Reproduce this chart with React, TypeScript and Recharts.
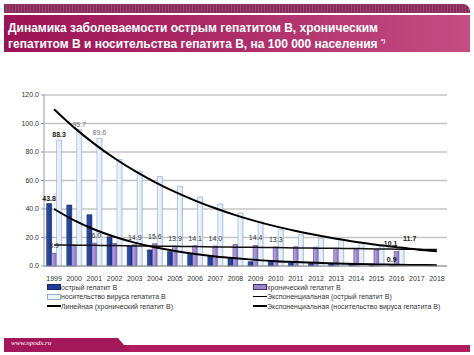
import React from 'react';
import { ComposedChart, Bar, Line, XAxis, YAxis, CartesianGrid, LabelList } from 'recharts';

const years = ['1999', '2000', '2001', '2002', '2003', '2004', '2005', '2006', '2007', '2008', '2009', '2010', '2011', '2012', '2013', '2014', '2015', '2016', '2017', '2018'];
const acute = [43.8, 42.8, 36.0, 20.5, 14.1, 11.3, 10.1, 8.2, 6.6, 5.4, 3.0, 3.6, 2.4, 2.0, 1.7, 1.4, 1.2, 0.9, null, null];
const chronic = [8.9, 14.8, 16.0, 15.8, 14.9, 15.6, 13.9, 14.1, 14.0, 15.0, 14.4, 13.3, 13.5, 13.2, 12.2, 11.5, 11.3, 10.1, null, null];
const carrier = [88.3, 95.7, 89.6, 74.8, 66.6, 62.8, 56.0, 48.5, 43.5, 37.2, 31.0, 25.4, 22.0, 19.5, 18.4, 16.0, 13.6, 11.7, null, null];
const expAcute = [40.0, 32.0, 25.6, 20.5, 16.4, 13.1, 10.5, 8.4, 6.7, 5.4, 4.3, 3.4, 2.8, 2.2, 1.8, 1.4, 1.1, 0.9, 0.7, 0.6];
const linChronic = [14.8, 14.6, 14.5, 14.3, 14.1, 13.9, 13.8, 13.6, 13.4, 13.2, 13.1, 12.9, 12.7, 12.5, 12.4, 12.2, 12.0, 11.8, 11.7, 11.5];
const expCarrier = [110.0, 97.1, 85.7, 75.6, 66.7, 58.9, 52.0, 45.9, 40.5, 35.7, 31.5, 27.8, 24.6, 21.7, 19.1, 16.9, 14.9, 13.2, 11.6, 10.3];

const acuteLabels = ['43.8', null, null, null, null, null, null, null, null, null, null, null, null, null, null, null, null, '0.9', null, null];
const chronicLabels = ['8.9', null, '16.0', null, '14.9', '15.6', '13.9', '14.1', '14.0', null, '14.4', '13.3', null, null, null, null, null, null, null, null];
const chronicShiftLabels = [null, null, null, null, null, null, null, null, null, null, null, null, null, null, null, null, null, '10.1', null, null];
const carrierBoldLabels = ['88.3', null, null, null, null, null, null, null, null, null, null, null, null, null, null, null, null, null, null, null];
const carrierShiftLabels = [null, null, null, null, null, null, null, null, null, null, null, null, null, null, null, null, null, '11.7', null, null];
const carrierLightLabels = [null, '95.7', '89.6', null, null, null, null, null, null, null, null, null, null, null, null, null, null, null, null, null];
const yTicks = [0, 20, 40, 60, 80, 100, 120];

const data = years.map((year, i) => ({
  year,
  acute: acute[i],
  chronic: chronic[i],
  carrier: carrier[i],
  expAcute: expAcute[i],
  linChronic: linChronic[i],
  expCarrier: expCarrier[i],
  acuteLbl: acuteLabels[i],
  chronicLbl: chronicLabels[i],
  chronicShiftLbl: chronicShiftLabels[i],
  carrierBoldLbl: carrierBoldLabels[i],
  carrierShiftLbl: carrierShiftLabels[i],
  carrierLightLbl: carrierLightLabels[i],
}));

const FONT = 'Arial, "Liberation Sans", sans-serif';

const mkLabel = (color: string, weight: string | number, dy: number, dx = 0) => (props: any) => {
  const { x, y, width, value } = props;
  if (value === null || value === undefined || value === '') return null;
  return (
    <text x={Number(x) + Number(width) / 2 + dx} y={Number(y) - dy} textAnchor="middle" fontSize={7} fill={color} fontWeight={weight} fontFamily={FONT}>
      {value}
    </text>
  );
};

const legendItems = [
  { label: 'острый гепатит В', kind: 'rect', fill: '#1f3d99', stroke: '#132a66', col: 0, row: 0 },
  { label: 'хронический гепатит В', kind: 'rect', fill: '#9b86c8', stroke: '#4b2f80', col: 1, row: 0 },
  { label: 'носительство вируса гепатита В', kind: 'rect', fill: '#eef4fb', stroke: '#90acd6', col: 0, row: 1 },
  { label: 'Экспоненциальная (острый гепатит В)', kind: 'line', fill: '#000', stroke: '#000', col: 1, row: 1 },
  { label: 'Линейная (хронический гепатит В)', kind: 'line', fill: '#000', stroke: '#000', col: 0, row: 2 },
  { label: 'Экспоненциальная (носительство вируса гепатита В)', kind: 'line', fill: '#000', stroke: '#000', col: 1, row: 2 },
];

export default function App() {
  return (
    <div style={{ position: 'absolute', left: 0, top: 0, width: 474, height: 355, background: '#fff', overflow: 'hidden', fontFamily: FONT }}>
      {/* header stripe */}
      <div style={{ position: 'absolute', left: 4, top: 4, width: 466, height: 9, background: 'repeating-linear-gradient(90deg, #8a2c5b 0px, #8a2c5b 2px, #9a4470 2px, #9a4470 3px)', borderRadius: '0 7px 0 0' }} />
      <div style={{ position: 'absolute', left: 4, top: 15, width: 466, height: 37, background: 'linear-gradient(90deg, #9c1355 0%, #b0306a 55%, #c54d82 100%)' }} />
      <div style={{ position: 'absolute', left: 8, top: 20, color: '#fff', fontWeight: 'bold', fontSize: 12, lineHeight: '16px', whiteSpace: 'nowrap' }}>
        <div>Динамика заболеваемости острым гепатитом В, хроническим</div>
        <div>
          гепатитом В и носительства гепатита В, на 100 000 населения <sup style={{ fontSize: 6, verticalAlign: 'top', lineHeight: '10px' }}>*)</sup>
        </div>
      </div>

      {/* chart */}
      <div style={{ position: 'absolute', left: 0, top: 60 }}>
        <ComposedChart width={474} height={230} data={data} margin={{ top: 35, right: 27, bottom: 4, left: 0 }} barCategoryGap="13%" barGap={0}>
          <defs>
            <linearGradient id="gAcute" x1="0" y1="0" x2="1" y2="0">
              <stop offset="0%" stopColor="#2f55b8" />
              <stop offset="100%" stopColor="#1a3380" />
            </linearGradient>
            <linearGradient id="gChronic" x1="0" y1="0" x2="1" y2="0">
              <stop offset="0%" stopColor="#c0afe6" />
              <stop offset="100%" stopColor="#8468bb" />
            </linearGradient>
            <linearGradient id="gCarrier" x1="0" y1="0" x2="1" y2="0">
              <stop offset="0%" stopColor="#f6f9fd" />
              <stop offset="100%" stopColor="#dbe6f4" />
            </linearGradient>
          </defs>
          <CartesianGrid vertical={false} stroke="#c4c4c4" strokeWidth={1.5} />
          <XAxis dataKey="year" tickLine={false} axisLine={{ stroke: '#999' }} tick={{ fontSize: 7, fill: '#333', fontFamily: FONT }} height={20} interval={0} tickMargin={4} />
          <YAxis domain={[0, 120]} ticks={yTicks} width={44} tickFormatter={(v: number) => v.toFixed(1)} tick={{ fontSize: 7, fill: '#333', fontFamily: FONT }} axisLine={{ stroke: '#999' }} tickLine={{ stroke: '#999' }} tickSize={3} />
          <Bar dataKey="acute" fill="url(#gAcute)" stroke="#132a66" strokeWidth={0.6} isAnimationActive={false}>
            <LabelList dataKey="acuteLbl" content={mkLabel('#111', 'bold', 3)} />
          </Bar>
          <Bar dataKey="chronic" fill="url(#gChronic)" stroke="#4b2f80" strokeWidth={0.6} isAnimationActive={false}>
            <LabelList dataKey="chronicLbl" content={mkLabel('#333', 'normal', 5)} />
            <LabelList dataKey="chronicShiftLbl" content={mkLabel('#222', 'bold', 6, -6)} />
          </Bar>
          <Bar dataKey="carrier" fill="url(#gCarrier)" stroke="#90acd6" strokeWidth={0.7} isAnimationActive={false}>
            <LabelList dataKey="carrierBoldLbl" content={mkLabel('#222', 'bold', 3)} />
            <LabelList dataKey="carrierShiftLbl" content={mkLabel('#222', 'bold', 8, 8)} />
            <LabelList dataKey="carrierLightLbl" content={mkLabel('#777', 'normal', 3)} />
          </Bar>
          <Line type="monotone" dataKey="linChronic" stroke="#111" strokeWidth={1.5} dot={false} isAnimationActive={false} />
          <Line type="monotone" dataKey="expAcute" stroke="#000" strokeWidth={2} dot={false} isAnimationActive={false} />
          <Line type="monotone" dataKey="expCarrier" stroke="#000" strokeWidth={2} dot={false} isAnimationActive={false} />
        </ComposedChart>
      </div>

      {/* legend */}
      {legendItems.map((it, i) => (
        <div key={i} style={{ position: 'absolute', left: it.col === 0 ? 47 : 253, top: 283 + it.row * 9.5, height: 8, display: 'flex', alignItems: 'center', whiteSpace: 'nowrap' }}>
          {it.kind === 'rect' ? (
            <div style={{ width: 12, height: 4, background: it.fill, border: `1px solid ${it.stroke}` }} />
          ) : (
            <div style={{ width: 14, height: 1.5, background: '#000' }} />
          )}
          <span style={{ fontSize: 7, color: '#333', marginLeft: 0 }}>{it.label}</span>
        </div>
      ))}

      {/* footer */}
      <div style={{ position: 'absolute', left: 4, top: 345, width: 466, height: 7, background: '#b21c5f' }} />
      <div style={{ position: 'absolute', left: 4, top: 338, width: 126, height: 14, background: '#a3185a', clipPath: 'polygon(0 0, 114px 0, 126px 100%, 0 100%)' }} />
      <div style={{ position: 'absolute', left: 11, top: 338, color: '#fff', fontStyle: 'italic', fontFamily: '"Liberation Serif", "DejaVu Serif", serif', fontSize: 7, lineHeight: '10px' }}>www.npodx.ru</div>
    </div>
  );
}
